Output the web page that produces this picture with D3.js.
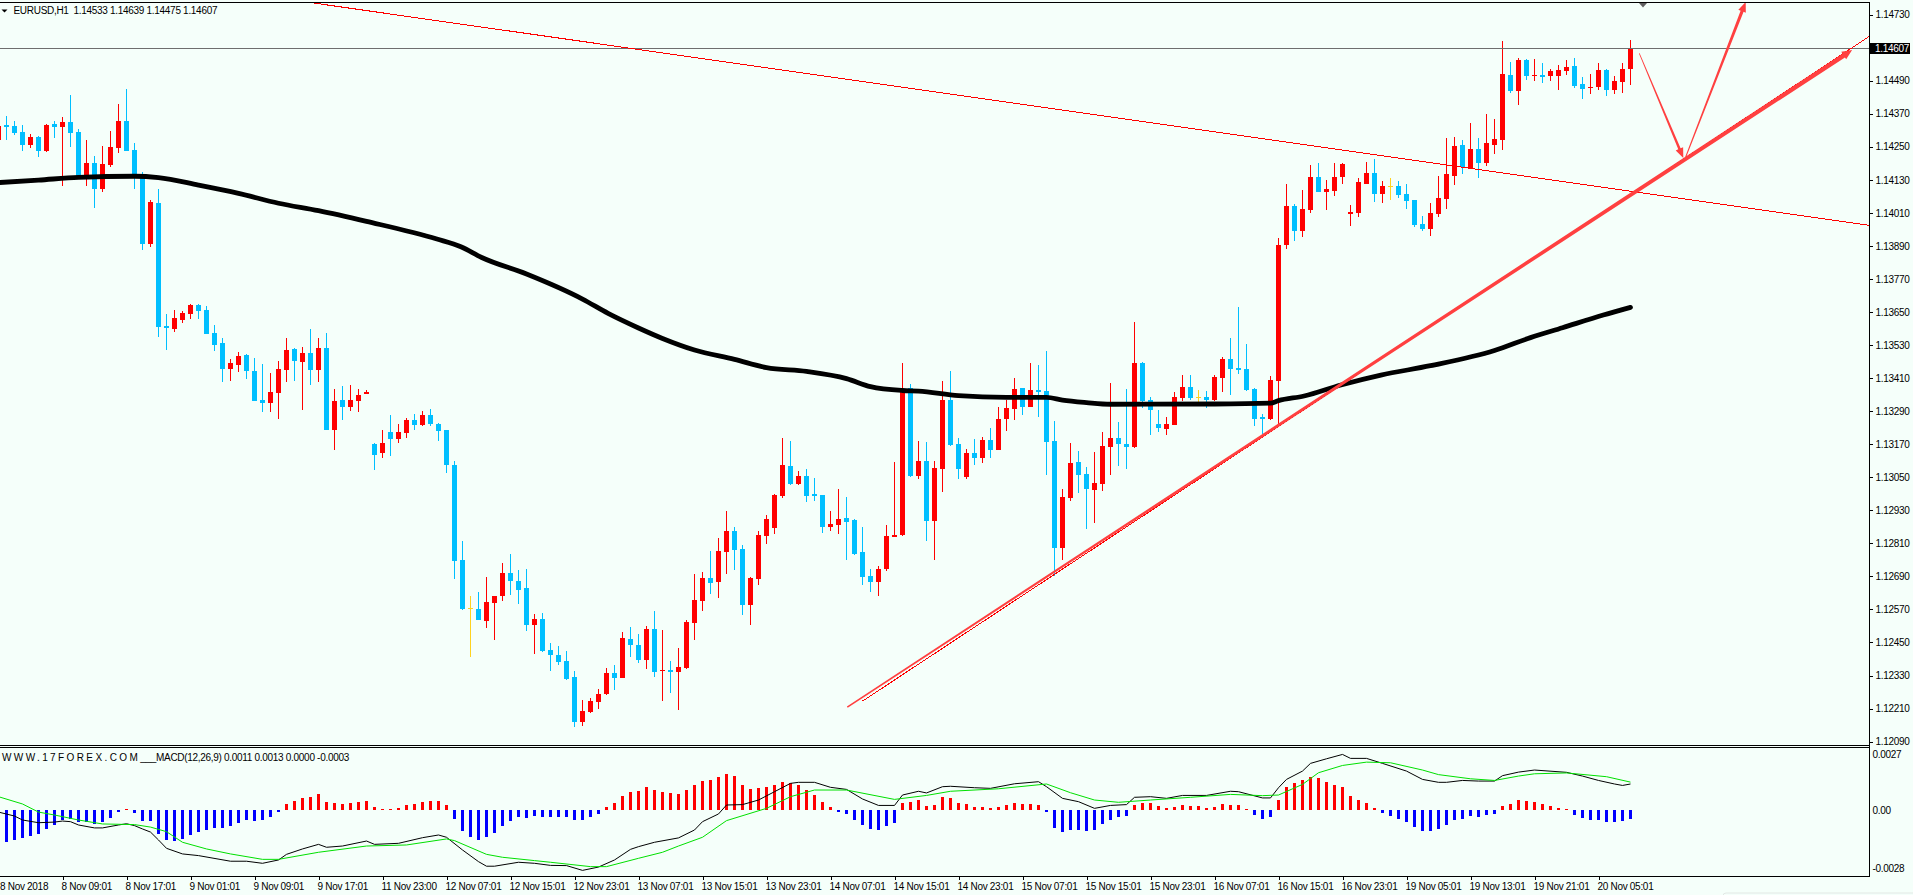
<!DOCTYPE html>
<html>
<head>
<meta charset="utf-8">
<title>EURUSD,H1</title>
<script src="https://d3js.org/d3.v7.min.js"></script>
<style>
  html, body { margin: 0; padding: 0; background: #f5fffa; overflow: hidden; }
  text { font-family: "Liberation Sans", Arial, sans-serif; font-size: 10px; letter-spacing: -0.3px; fill: #000; }
</style>
</head>
<body>
<div id="chart"></div>
<script>
// prices are kept in points (1.14607 -> 114607), one entry per H1 bar
var opens = [114275,
114328,114325,114304,114256,114285,114235,114333,114322,114340,114304,
114141,114191,114097,114184,114245,114344,114238,114135,113897,114046,
113599,113588,113621,113643,113675,113657,113574,113537,113443,113457,
113494,113436,113330,113319,113356,113439,113516,113468,113501,113439,
113519,113221,113330,113305,113327,113352,113171,113138,113214,113189,
113211,113258,113240,113276,113243,113221,113094,112749,112574,112571,
112528,112593,112619,112702,112673,112648,112513,112535,112422,112404,
112383,112325,112161,112197,112234,112263,112339,112321,112462,112441,
112386,112499,112346,112350,112343,112357,112521,112600,112684,112669,
112778,112855,112789,112586,112680,112837,112866,112982,113091,113025,
113054,112989,112985,112869,112876,112902,112895,112778,112691,112669,
112717,112833,112840,113374,113054,113109,112891,113080,113330,113171,
113051,113138,113120,113185,113149,113261,113298,113374,113305,113367,
113363,113181,112793,112975,113105,113062,113004,113025,113160,113192,
113171,113160,113465,113330,113243,113225,113240,113338,113378,113341,
113341,113330,113410,113479,113447,113443,113370,113269,113261,113399,
113893,114035,113944,114020,114140,114086,114089,114140,114006,114009,
114115,114155,114078,114108,114108,114078,114057,113970,113951,114006,
114060,114144,114256,114169,114242,114191,114256,114275,114511,114452,
114565,114507,114511,114507,114507,114525,114543,114478,114463,114467,
114529,114456,114485,114533];

var highs = [114325,
114362,114344,114329,114296,114289,114333,114344,114358,114438,114315,
114275,114216,114253,114307,114405,114460,114264,114158,114057,114097,
113643,113657,113654,113679,113679,113672,113603,113556,113479,113505,
113497,113483,113461,113428,113472,113556,113519,113523,113588,113556,
113574,113370,113381,113385,113370,113367,113174,113221,113276,113243,
113265,113280,113290,113298,113247,113221,113109,112818,112619,112633,
112688,112619,112739,112771,112713,112717,112553,112557,112448,112437,
112419,112346,112241,112248,112281,112357,112368,112488,112506,112481,
112510,112564,112495,112383,112430,112532,112698,112706,112782,112829,
112927,112869,112804,112688,112855,112913,112989,113192,113181,113073,
113080,113047,112985,112927,113007,112978,112898,112869,112717,112728,
112876,113105,113465,113389,113181,113178,113109,113399,113436,113192,
113152,113189,113196,113229,113305,113330,113410,113374,113465,113457,
113508,113254,113007,113174,113145,113087,113142,113214,113392,113250,
113370,113614,113468,113341,113294,113269,113359,113421,113421,113367,
113363,113421,113487,113556,113668,113534,113374,113280,113418,113919,
114115,114042,114093,114184,114191,114129,114191,114191,114038,114137,
114195,114206,114126,114137,114126,114115,114057,113999,114046,114144,
114282,114285,114275,114336,114282,114369,114351,114634,114558,114572,
114569,114569,114554,114532,114547,114565,114572,114503,114514,114554,
114532,114507,114554,114639];

var lows = [114262,
114275,114293,114236,114245,114214,114231,114282,114108,114249,114135,
114108,114028,114086,114176,114227,114235,114097,113875,113886,113559,
113512,113577,113610,113625,113625,113570,113508,113396,113399,113432,
113407,113327,113287,113287,113261,113396,113399,113294,113385,113396,
113221,113149,113258,113290,113287,113352,113076,113120,113127,113174,
113192,113221,113236,113236,113181,113065,112680,112568,112398,112532,
112502,112459,112600,112622,112590,112492,112408,112415,112346,112368,
112314,112143,112146,112194,112208,112259,112277,112321,112397,112375,
112353,112325,112237,112266,112205,112353,112459,112564,112626,112611,
112698,112713,112550,112513,112659,112807,112844,112975,113022,113022,
112960,112964,112847,112855,112844,112749,112767,112659,112633,112619,
112709,112833,112837,113051,113043,112818,112749,112996,113163,113043,
113043,113094,113102,113120,113149,113218,113258,113276,113305,113269,
113058,112691,112749,112964,112993,112862,112884,113000,113058,113091,
113080,113156,113301,113203,113214,113203,113240,113327,113330,113323,
113301,113327,113359,113349,113425,113363,113236,113207,113258,113240,
113879,113908,113922,114009,114086,114020,114071,114115,113962,113995,
114115,114049,114046,114057,114064,114024,113959,113944,113926,113995,
114024,114111,114151,114169,114137,114180,114224,114238,114445,114402,
114492,114489,114482,114489,114456,114511,114463,114423,114442,114456,
114434,114442,114445,114475];

var closes = [114325,
114322,114299,114256,114285,114235,114329,114322,114340,114300,114141,
114191,114097,114187,114249,114344,114235,114141,113897,114049,113595,
113592,113628,113646,113675,113654,113570,113530,113443,113465,113490,
113436,113327,113319,113359,113443,113512,113472,113501,113439,113519,
113221,113327,113305,113330,113349,113359,113131,113174,113189,113214,
113258,113240,113276,113243,113218,113094,112746,112571,112574,112532,
112597,112619,112702,112673,112640,112513,112535,112419,112404,112379,
112317,112161,112201,112237,112263,112339,112321,112466,112441,112386,
112499,112343,112350,112343,112361,112524,112604,112684,112666,112782,
112855,112786,112586,112684,112840,112898,112985,113094,113025,113054,
112982,112982,112869,112880,112898,112887,112771,112688,112669,112717,
112837,112840,113367,113054,113109,112891,113084,113330,113167,113080,
113138,113120,113185,113149,113261,113301,113370,113305,113367,113359,
113178,112793,112978,113102,113058,113007,113029,113163,113192,113171,
113160,113465,113327,113294,113229,113243,113341,113378,113338,113341,
113330,113414,113479,113443,113439,113367,113261,113261,113403,113893,
114035,113944,114024,114140,114086,114097,114140,114187,114013,114122,
114155,114078,114108,114108,114075,114053,113966,113951,114009,114064,
114151,114253,114176,114242,114191,114264,114278,114514,114452,114565,
114507,114511,114503,114525,114529,114540,114471,114460,114467,114529,
114456,114489,114532,114607];

// moving average, read at these bars
var maBars = [0,5,10,17,20,25,30,35,40,46,54.8,57.8,60.4,66,73,76.2,80,83,87,92,96,101,106,109,113,115,120,126,131,133,136,139,152,159,160,163.2,167.8,172.8,179,187,191.5,195.5,200.6,204];
var maValues = [114120,114129,114139,114143,114138,114111,114081,114045,114018,113979,113915,113887,113848,113788,113697,113645,113592,113554,113512,113478,113448,113434,113408,113379,113365,113363,113346,113340,113340,113330,113321,113315,113316,113319,113328,113345,113385,113421,113455,113510,113557,113593,113639,113667];

// MACD histogram, unit 0.00001, one entry per bar
var histValues = [-160,
-154,-144,-134,-125,-115,-91,-72,-48,-43,-58,
-58,-67,-58,-38,-10,3,-14,-53,-53,-115,
-144,-149,-139,-120,-106,-96,-86,-86,-77,-62,
-48,-53,-48,-34,-10,29,43,58,62,77,
38,34,29,34,38,43,14,5,5,10,
24,29,38,43,43,24,-43,-101,-130,-144,
-130,-110,-77,-53,-34,-38,-29,-34,-34,-34,
-34,-48,-48,-34,-19,14,34,67,86,91,
110,96,86,82,77,96,120,139,144,158,
173,163,120,101,106,110,120,134,130,120,
96,72,38,14,-10,-19,-48,-72,-91,-96,
-77,-62,34,38,48,19,24,62,58,34,
29,14,14,10,14,24,34,29,29,24,
-10,-86,-106,-96,-96,-101,-96,-67,-48,-34,
-29,24,34,34,19,10,14,24,19,19,
10,14,29,24,24,3,-24,-43,-34,48,
110,130,144,158,154,134,120,110,67,48,
34,10,-14,-29,-43,-58,-82,-101,-101,-91,
-72,-48,-43,-29,-34,-24,-19,19,29,48,
43,38,29,19,10,3,-24,-38,-48,-48,
-58,-58,-53,-43];

var macdBars = [0,2,3,5,7,8,9,10,12,13,15,16,17,18,19,20,21,23,25,29,31,33,35,36,38,40,41,43,46,47,50,53,55,56,58,60,61,62,65,67,69,71,73,75,77,79,80,
82,85,87,88,90,91,93,95,97,99,100,102,104,106,108,110,112,113,115,116,118,119,122,124,127,130,131,133,135,137,139,141,142,144,146,148,151,154,155,158,159,160,
161,163,164,166,168,169,171,173,176,178,180,181,183,185,187,188,190,192,196,198,200,202,203,204];
var macdValues = [-10,-29,-48,-61,-58,-53,-56,-72,-86,-86,-72,-66,-75,-91,-106,-144,-184,-211,-219,-246,-246,-256,-240,-213,-187,-165,-179,-173,-149,-165,-160,-133,-120,-131,-192,-248,-270,-270,-251,-256,-266,-267,-290,-274,-240,-189,-176,
-155,-134,-96,-56,-19,24,26,48,88,128,133,133,109,99,53,22,22,72,90,82,112,114,107,104,126,136,112,56,40,8,22,26,61,64,56,70,70,90,88,58,58,107,
147,187,224,246,267,248,248,224,187,147,133,133,142,139,139,165,182,192,181,163,142,125,118,125];

var signalBars = [0,3,5,7,10,13,17,19,21,23,26,29,33,35,40,46,51,56,57,61,63,67,69,74,76,80,
83,85,88,91,96,99,102,106,112,116,119,125,131,134,137,140,144,149,154,158,160,
163,165,168,171,174,178,180,184,187,190,192,196,201,204];
var signalValues = [64,29,-10,-24,-48,-67,-70,-82,-104,-155,-187,-211,-237,-237,-203,-173,-168,-139,-147,-213,-227,-243,-251,-272,-272,-232,
-203,-173,-131,-51,8,64,96,96,51,70,90,102,125,83,48,37,48,61,75,69,72,
123,179,214,230,227,192,170,150,142,163,174,178,160,134];

var priceTicks = [114730,114490,114370,114250,114130,114010,113890,113770,113650,113530,113410,113290,113170,113050,112930,112810,112690,112570,112450,112330,112210,112090];
var macdTicks = [27, 0, -28]; // unit 0.0001
var timeBars = [0,8,16,24,32,40,48,56,64,72,80,88,96,104,112,120,128,136,144,152,160,168,176,184,192,200];
var timeLabels = ["8 Nov 2018","8 Nov 09:01","8 Nov 17:01","9 Nov 01:01","9 Nov 09:01","9 Nov 17:01","11 Nov 23:00","12 Nov 07:01","12 Nov 15:01","12 Nov 23:01","13 Nov 07:01","13 Nov 15:01","13 Nov 23:01","14 Nov 07:01","14 Nov 15:01","14 Nov 23:01","15 Nov 07:01","15 Nov 15:01","15 Nov 23:01","16 Nov 07:01","16 Nov 15:01","16 Nov 23:01","19 Nov 05:01","19 Nov 13:01","19 Nov 21:01","20 Nov 05:01"];

// drawn objects, as [bar, price]
var closePrice = 114607;
var resistance = [[39.4,114772],[233.8,113965]];
var supportThin = [[108,112237],[233.8,114650]];
var supportArrow = [[106.1,112215],[231.7,114601]];
var downArrow = [[205.1,114589],[210.6,114209]];
var upArrow = [[210.9,114213],[218.4,114776]];

var width = 1913, height = 895;
var axisX = 1869;

var svg = d3.select("#chart").append("svg")
    .attr("width", width)
    .attr("height", height)
    .style("display", "block");

svg.append("rect")
    .attr("width", width)
    .attr("height", height)
    .attr("fill", "#f5fffa");

// 8 pixels per bar, like the terminal
var xScale = d3.scaleLinear().domain([0, 240]).range([-1.5, 1918.5]);
var yPrice = d3.scaleLinear().domain([112090, 114730]).range([741.6, 14.6]);
var yMacd = d3.scaleLinear().domain([-280, 270]).range([868.3, 753.8]);

var colors = d3.scaleOrdinal().domain(["up","down","flat"]).range(["#ff0000","#00bfff","#ffd21f"]);
function direction(i) {
    if (closes[i] > opens[i]) return "up";
    if (closes[i] < opens[i]) return "down";
    return "flat";
}

// candles
var bars = d3.range(opens.length);
var candleGroup = svg.append("g").attr("shape-rendering", "crispEdges");

candleGroup.selectAll(".wick")
    .data(bars)
    .enter()
    .append("rect")
    .attr("class", "wick")
    .attr("x", i => xScale(i) - 0.5)
    .attr("y", i => yPrice(highs[i]))
    .attr("width", 1)
    .attr("height", i => yPrice(lows[i]) - yPrice(highs[i]))
    .attr("fill", i => colors(direction(i)));

candleGroup.selectAll(".body")
    .data(bars)
    .enter()
    .append("rect")
    .attr("class", "body")
    .attr("x", i => xScale(i) - 2.5)
    .attr("y", i => yPrice(Math.max(opens[i], closes[i])))
    .attr("width", 5)
    .attr("height", i => Math.max(1, Math.abs(yPrice(opens[i]) - yPrice(closes[i]))))
    .attr("fill", i => colors(direction(i)));

// last price line
svg.append("line")
    .attr("x1", 0)
    .attr("x2", axisX)
    .attr("y1", yPrice(closePrice))
    .attr("y2", yPrice(closePrice))
    .attr("stroke", "#6e6e6e")
    .attr("shape-rendering", "crispEdges");

// moving average goes over the candles
var maLine = d3.line()
    .curve(d3.curveMonotoneX)
    .x((d, i) => xScale(maBars[i]))
    .y(d => yPrice(d));

svg.append("path")
    .datum(maValues)
    .attr("d", maLine)
    .attr("fill", "none")
    .attr("stroke", "#000")
    .attr("stroke-width", 4.8)
    .attr("stroke-linecap", "round")
    .attr("stroke-linejoin", "round");

// thin trend lines
function trendLine(points, color) {
    svg.append("line")
        .attr("x1", xScale(points[0][0]))
        .attr("y1", yPrice(points[0][1]))
        .attr("x2", xScale(points[1][0]))
        .attr("y2", yPrice(points[1][1]))
        .attr("stroke", color)
        .attr("stroke-width", 1)
        .attr("shape-rendering", "crispEdges");
}
trendLine(resistance, "#ff0000");
trendLine(supportThin, "#ff0000");

// hand drawn arrows, thin at the start and thicker at the head
function taperedArrow(points, startWidth, endWidth, headLength, headWidth) {
    var x0 = xScale(points[0][0]), y0 = yPrice(points[0][1]);
    var x1 = xScale(points[1][0]), y1 = yPrice(points[1][1]);
    var len = Math.hypot(x1 - x0, y1 - y0);
    var ux = (x1 - x0) / len, uy = (y1 - y0) / len;
    var nx = -uy, ny = ux;
    var bx = x1 - ux * headLength, by = y1 - uy * headLength;
    var outline = [
        [x0 + nx * startWidth / 2, y0 + ny * startWidth / 2],
        [bx + nx * endWidth / 2, by + ny * endWidth / 2],
        [bx + nx * headWidth / 2, by + ny * headWidth / 2],
        [x1, y1],
        [bx - nx * headWidth / 2, by - ny * headWidth / 2],
        [bx - nx * endWidth / 2, by - ny * endWidth / 2],
        [x0 - nx * startWidth / 2, y0 - ny * startWidth / 2]
    ];
    svg.append("path")
        .attr("d", d3.line()(outline) + "Z")
        .attr("fill", "#ff4040");
}
taperedArrow(supportArrow, 1.6, 4.5, 10, 9);
taperedArrow(downArrow, 0.8, 2.5, 10, 8);
taperedArrow(upArrow, 1, 3.2, 10, 8);

// MACD panel
var histGroup = svg.append("g").attr("shape-rendering", "crispEdges");
histGroup.selectAll("rect")
    .data(histValues)
    .enter()
    .append("rect")
    .attr("x", (d, i) => xScale(i) - 1.5)
    .attr("y", d => Math.min(yMacd(d), yMacd(0)))
    .attr("width", 3)
    .attr("height", d => Math.max(1, Math.abs(yMacd(d) - yMacd(0))))
    .attr("fill", d => d >= 0 ? "#ff0000" : "#0000ff");

var macdLine = d3.line()
    .x((d, i) => xScale(macdBars[i]))
    .y(d => yMacd(d));
var signalLine = d3.line()
    .x((d, i) => xScale(signalBars[i]))
    .y(d => yMacd(d));

svg.append("path")
    .datum(macdValues)
    .attr("d", macdLine)
    .attr("fill", "none")
    .attr("stroke", "#000")
    .attr("stroke-width", 1);

svg.append("path")
    .datum(signalValues)
    .attr("d", signalLine)
    .attr("fill", "none")
    .attr("stroke", "#00e000")
    .attr("stroke-width", 1);

// frame of the panels
var frame = svg.append("g").attr("fill", "#000").attr("shape-rendering", "crispEdges");
frame.append("rect").attr("x", 0).attr("y", 2).attr("width", axisX + 1).attr("height", 1);
frame.append("rect").attr("x", 0).attr("y", 745).attr("width", axisX + 1).attr("height", 1);
frame.append("rect").attr("x", 0).attr("y", 747).attr("width", axisX + 1).attr("height", 1);
frame.append("rect").attr("x", 0).attr("y", 876).attr("width", axisX + 1).attr("height", 1);
frame.append("rect").attr("x", axisX).attr("y", 2).attr("width", 1).attr("height", 875);

// axes
var priceAxis = d3.axisRight(yPrice)
    .tickValues(priceTicks)
    .tickFormat(d => (d / 1e5).toFixed(5))
    .tickSize(3)
    .tickPadding(3);
var priceAxisGroup = svg.append("g")
    .attr("transform", `translate(${axisX + 0.5},0)`)
    .call(priceAxis);

var macdAxis = d3.axisRight(yMacd)
    .tickValues(macdTicks.map(d => d * 10))
    .tickFormat(d => d === 0 ? "0.00" : (d / 1e5).toFixed(4))
    .tickSize(0)
    .tickPadding(3);
var macdAxisGroup = svg.append("g")
    .attr("transform", `translate(${axisX + 0.5},0)`)
    .call(macdAxis);

var timeAxis = d3.axisBottom(xScale)
    .tickValues(timeBars)
    .tickFormat((d, i) => timeLabels[i])
    .tickSize(3)
    .tickPadding(0);
var timeAxisGroup = svg.append("g")
    .attr("transform", "translate(0,876.5)")
    .call(timeAxis);

[priceAxisGroup, macdAxisGroup, timeAxisGroup].forEach(g => {
    g.select(".domain").remove();
    g.attr("font-family", null).attr("font-size", null);
    g.selectAll("line").attr("stroke", "#000").attr("shape-rendering", "crispEdges");
});
// first label would run off the left edge
timeAxisGroup.selectAll("text")
    .attr("text-anchor", "start")
    .attr("x", (d, i) => i === 0 ? 1 : -1.5)
    .attr("y", 13)
    .attr("dy", null);

// last price badge
svg.append("rect")
    .attr("x", 1870)
    .attr("y", 43)
    .attr("width", 40)
    .attr("height", 11)
    .attr("fill", "#000");
svg.append("text")
    .attr("x", 1875)
    .attr("y", 52)
    .style("fill", "#fff")
    .text((closePrice / 1e5).toFixed(5));

// header texts
svg.append("path")
    .attr("d", d3.line()([[1.5,9.5],[7.5,9.5],[4.5,12.5]]) + "Z")
    .attr("fill", "#000");
svg.append("text")
    .attr("x", 13.5)
    .attr("y", 14)
    .attr("xml:space", "preserve")
    .text("EURUSD,H1  1.14533 1.14639 1.14475 1.14607");

var macdTitle = svg.append("text")
    .attr("x", 2)
    .attr("y", 760.5);
macdTitle.append("tspan")
    .style("letter-spacing", "2.4px")
    .text("WWW.17FOREX.COM");
macdTitle.append("tspan")
    .text("___MACD(12,26,9) 0.0011 0.0013 0.0000 -0.0003");

// chart shift marker
svg.append("path")
    .attr("d", d3.line()([[1639,3],[1647,3],[1643,7.5]]) + "Z")
    .attr("fill", "#606060");

// faint edge of the next window at the bottom right
svg.append("rect")
    .attr("x", 1723)
    .attr("y", 893)
    .attr("width", 200)
    .attr("height", 10)
    .attr("rx", 3)
    .attr("fill", "none")
    .attr("stroke", "#e2e8e5");
</script>
</body>
</html>
